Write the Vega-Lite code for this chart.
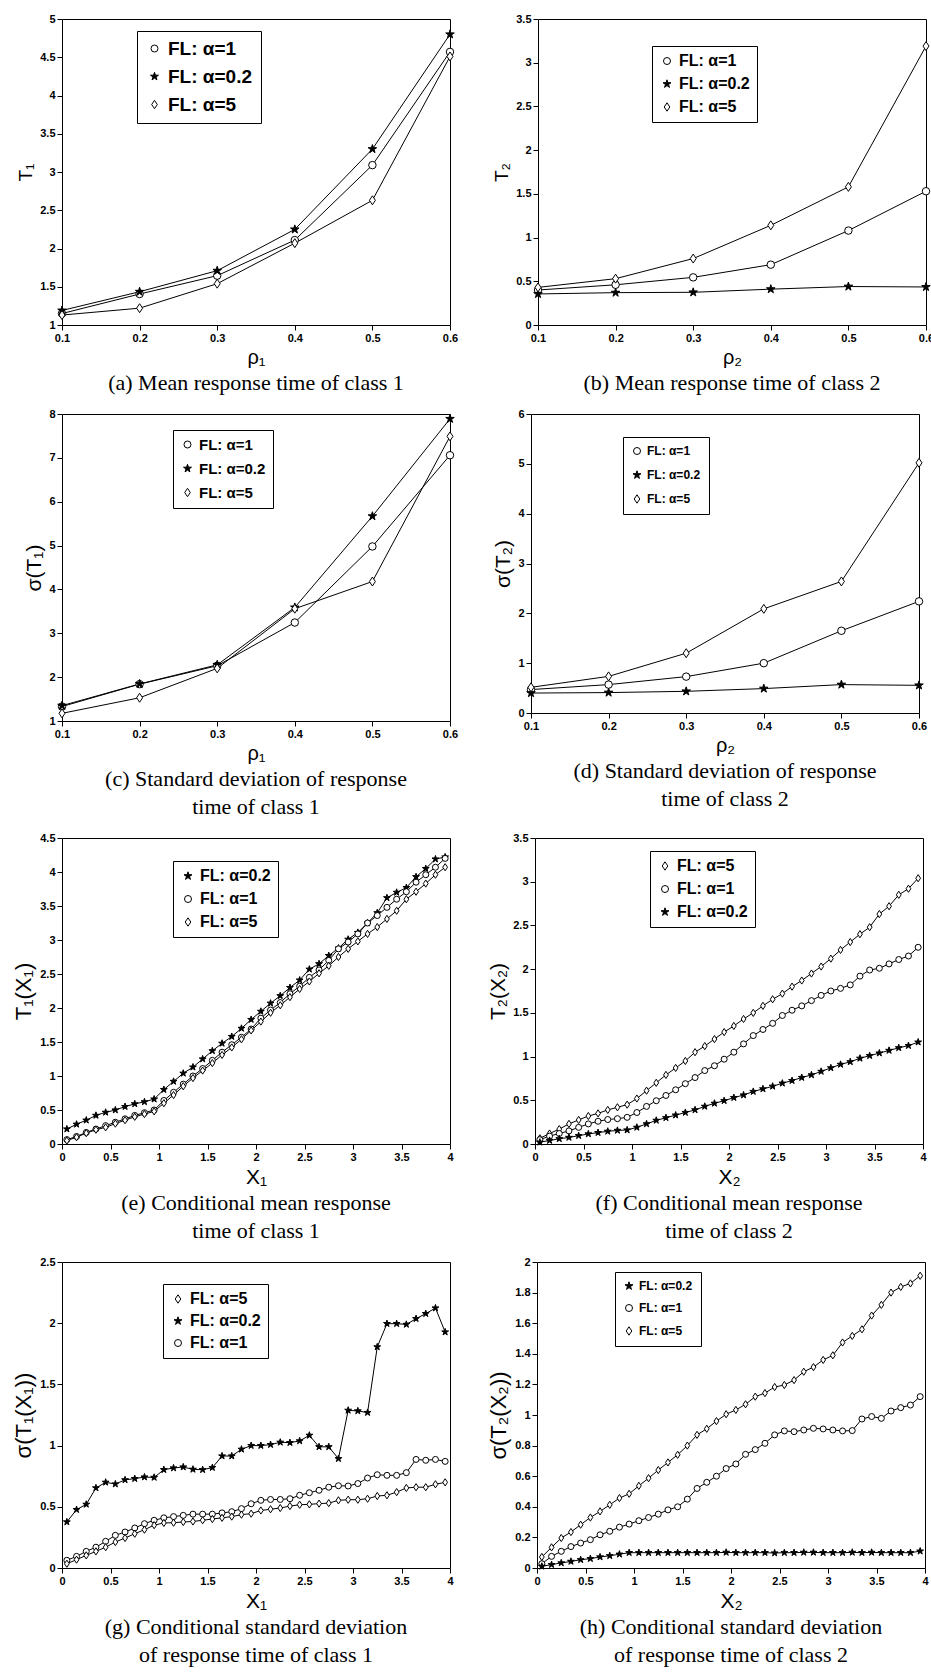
{
"background": "white",
"padding": 12,
"spacing": 12,
"config": {
  "view": {"stroke": "black", "strokeWidth": 1},
  "axis": {"labelFont": "Liberation Sans", "labelFontWeight": "bold", "labelFontSize": 11, "labelColor": "black", "tickColor": "black", "tickSize": 5, "domain": false, "grid": false, "titleFont": "Liberation Sans", "titleFontWeight": "normal", "titleColor": "black", "labelFlush": false, "labelOverlap": false},
  "legend": {"labelFont": "Liberation Sans", "labelFontWeight": "bold", "labelColor": "black", "symbolSize": 49, "symbolStrokeWidth": 1},
  "title": {"font": "Liberation Serif", "fontSize": 22, "fontWeight": "normal", "color": "black", "lineHeight": 28}
},
"vconcat": [
{"spacing": 33, "hconcat": [
{
 "width": 388, "height": 306,
 "data": {"values": [
{"x":0.1,"y":1.15,"s":"1"},{"x":0.2,"y":1.405,"s":"1"},{"x":0.3,"y":1.645,"s":"1"},{"x":0.4,"y":2.11,"s":"1"},{"x":0.5,"y":3.09,"s":"1"},{"x":0.6,"y":4.57,"s":"1"},
{"x":0.1,"y":1.19,"s":"0.2"},{"x":0.2,"y":1.435,"s":"0.2"},{"x":0.3,"y":1.71,"s":"0.2"},{"x":0.4,"y":2.25,"s":"0.2"},{"x":0.5,"y":3.30,"s":"0.2"},{"x":0.6,"y":4.80,"s":"0.2"},
{"x":0.1,"y":1.13,"s":"5"},{"x":0.2,"y":1.22,"s":"5"},{"x":0.3,"y":1.54,"s":"5"},{"x":0.4,"y":2.07,"s":"5"},{"x":0.5,"y":2.63,"s":"5"},{"x":0.6,"y":4.51,"s":"5"}
 ]},
 "title": {"text": "(a) Mean response time of class 1", "orient": "bottom", "offset": 6},
 "layer": [
  {"mark": {"type": "line", "color": "black", "strokeWidth": 1},
   "encoding": {
    "x": {"field": "x", "type": "quantitative", "scale": {"domain": [0.1, 0.6], "nice": false, "zero": false}, "axis": {"values": [0.1,0.2,0.3,0.4,0.5,0.6], "format": "~g", "labelOverlap": false, "title": "ρ₁", "titleFontSize": 20}},
    "y": {"field": "y", "type": "quantitative", "scale": {"domain": [1, 5], "nice": false, "zero": false}, "axis": {"values": [1,1.5,2,2.5,3,3.5,4,4.5,5], "format": "~g", "labelOverlap": false, "title": "T₁", "titleFontSize": 19}},
    "detail": {"field": "s", "type": "nominal"}}},
  {"mark": {"type": "point", "filled": true, "stroke": "black", "strokeWidth": 1, "opacity": 1, "size": 56},
   "encoding": {
    "x": {"field": "x", "type": "quantitative", "axis": {"values": [0.1,0.2,0.3,0.4,0.5,0.6], "format": "~g", "labelOverlap": false, "title": "ρ₁", "titleFontSize": 20}},
    "y": {"field": "y", "type": "quantitative", "axis": {"values": [1,1.5,2,2.5,3,3.5,4,4.5,5], "format": "~g", "labelOverlap": false, "title": "T₁", "titleFontSize": 19}},
    "shape": {"field": "s", "type": "nominal", "scale": {"domain": ["1","0.2","5"], "range": ["circle", "M0,-1.2L0.27,-0.371L1.141,-0.371L0.436,0.142L0.705,0.971L0,0.458L-0.705,0.971L-0.436,0.142L-1.141,-0.371L-0.27,-0.371Z", "M0,-1.2L0.8,0L0,1.2L-0.8,0Z"]},
     "legend": {"title": null, "orient": "none", "legendX": 75, "legendY": 12, "labelFontSize": 19, "rowPadding": 8, "strokeColor": "black", "padding": 8, "labelExpr": "'FL: α=' + datum.label"}},
    "fill": {"field": "s", "type": "nominal", "scale": {"domain": ["1","0.2","5"], "range": ["white","black","white"]}, "legend": null}}}
 ]
},
{
 "width": 388, "height": 306,
 "data": {"values": [
{"x":0.1,"y":0.40,"s":"1"},{"x":0.2,"y":0.46,"s":"1"},{"x":0.3,"y":0.545,"s":"1"},{"x":0.4,"y":0.69,"s":"1"},{"x":0.5,"y":1.08,"s":"1"},{"x":0.6,"y":1.53,"s":"1"},
{"x":0.1,"y":0.355,"s":"0.2"},{"x":0.2,"y":0.37,"s":"0.2"},{"x":0.3,"y":0.374,"s":"0.2"},{"x":0.4,"y":0.41,"s":"0.2"},{"x":0.5,"y":0.44,"s":"0.2"},{"x":0.6,"y":0.435,"s":"0.2"},
{"x":0.1,"y":0.43,"s":"5"},{"x":0.2,"y":0.53,"s":"5"},{"x":0.3,"y":0.76,"s":"5"},{"x":0.4,"y":1.14,"s":"5"},{"x":0.5,"y":1.58,"s":"5"},{"x":0.6,"y":3.19,"s":"5"}
 ]},
 "title": {"text": "(b) Mean response time of class 2", "orient": "bottom", "offset": 6},
 "layer": [
  {"mark": {"type": "line", "color": "black", "strokeWidth": 1},
   "encoding": {
    "x": {"field": "x", "type": "quantitative", "scale": {"domain": [0.1, 0.6], "nice": false, "zero": false}, "axis": {"values": [0.1,0.2,0.3,0.4,0.5,0.6], "format": "~g", "labelOverlap": false, "title": "ρ₂", "titleFontSize": 20}},
    "y": {"field": "y", "type": "quantitative", "scale": {"domain": [0, 3.5], "nice": false, "zero": false}, "axis": {"values": [0,0.5,1,1.5,2,2.5,3,3.5], "format": "~g", "labelOverlap": false, "title": "T₂", "titleFontSize": 19}},
    "detail": {"field": "s", "type": "nominal"}}},
  {"mark": {"type": "point", "filled": true, "stroke": "black", "strokeWidth": 1, "opacity": 1, "size": 56},
   "encoding": {
    "x": {"field": "x", "type": "quantitative", "axis": {"values": [0.1,0.2,0.3,0.4,0.5,0.6], "format": "~g", "labelOverlap": false, "title": "ρ₂", "titleFontSize": 20}},
    "y": {"field": "y", "type": "quantitative", "axis": {"values": [0,0.5,1,1.5,2,2.5,3,3.5], "format": "~g", "labelOverlap": false, "title": "T₂", "titleFontSize": 19}},
    "shape": {"field": "s", "type": "nominal", "scale": {"domain": ["1","0.2","5"], "range": ["circle", "M0,-1.2L0.27,-0.371L1.141,-0.371L0.436,0.142L0.705,0.971L0,0.458L-0.705,0.971L-0.436,0.142L-1.141,-0.371L-0.27,-0.371Z", "M0,-1.2L0.8,0L0,1.2L-0.8,0Z"]},
     "legend": {"title": null, "orient": "none", "legendX": 114, "legendY": 27, "labelFontSize": 16, "rowPadding": 7, "strokeColor": "black", "padding": 7, "labelExpr": "'FL: α=' + datum.label"}},
    "fill": {"field": "s", "type": "nominal", "scale": {"domain": ["1","0.2","5"], "range": ["white","black","white"]}, "legend": null}}}
 ]
}
], "resolve": {"scale": {"shape": "independent", "fill": "independent"}, "legend": {"shape": "independent"}}},
{"spacing": 33, "hconcat": [
{
 "width": 388, "height": 307,
 "data": {"values": [
{"x":0.1,"y":1.33,"s":"1"},{"x":0.2,"y":1.84,"s":"1"},{"x":0.3,"y":2.26,"s":"1"},{"x":0.4,"y":3.245,"s":"1"},{"x":0.5,"y":4.98,"s":"1"},{"x":0.6,"y":7.06,"s":"1"},
{"x":0.1,"y":1.35,"s":"0.2"},{"x":0.2,"y":1.845,"s":"0.2"},{"x":0.3,"y":2.28,"s":"0.2"},{"x":0.4,"y":3.59,"s":"0.2"},{"x":0.5,"y":5.67,"s":"0.2"},{"x":0.6,"y":7.89,"s":"0.2"},
{"x":0.1,"y":1.175,"s":"5"},{"x":0.2,"y":1.53,"s":"5"},{"x":0.3,"y":2.20,"s":"5"},{"x":0.4,"y":3.56,"s":"5"},{"x":0.5,"y":4.18,"s":"5"},{"x":0.6,"y":7.49,"s":"5"}
 ]},
 "title": {"text": ["(c) Standard deviation of response", "time of class 1"], "orient": "bottom", "offset": 6},
 "layer": [
  {"mark": {"type": "line", "color": "black", "strokeWidth": 1},
   "encoding": {
    "x": {"field": "x", "type": "quantitative", "scale": {"domain": [0.1, 0.6], "nice": false, "zero": false}, "axis": {"values": [0.1,0.2,0.3,0.4,0.5,0.6], "format": "~g", "labelOverlap": false, "title": "ρ₁", "titleFontSize": 20}},
    "y": {"field": "y", "type": "quantitative", "scale": {"domain": [1, 8], "nice": false, "zero": false}, "axis": {"values": [1,2,3,4,5,6,7,8], "format": "~g", "labelOverlap": false, "title": "σ(T₁)", "titleFontSize": 21}},
    "detail": {"field": "s", "type": "nominal"}}},
  {"mark": {"type": "point", "filled": true, "stroke": "black", "strokeWidth": 1, "opacity": 1, "size": 56},
   "encoding": {
    "x": {"field": "x", "type": "quantitative", "axis": {"values": [0.1,0.2,0.3,0.4,0.5,0.6], "format": "~g", "labelOverlap": false, "title": "ρ₁", "titleFontSize": 20}},
    "y": {"field": "y", "type": "quantitative", "axis": {"values": [1,2,3,4,5,6,7,8], "format": "~g", "labelOverlap": false, "title": "σ(T₁)", "titleFontSize": 21}},
    "shape": {"field": "s", "type": "nominal", "scale": {"domain": ["1","0.2","5"], "range": ["circle", "M0,-1.2L0.27,-0.371L1.141,-0.371L0.436,0.142L0.705,0.971L0,0.458L-0.705,0.971L-0.436,0.142L-1.141,-0.371L-0.27,-0.371Z", "M0,-1.2L0.8,0L0,1.2L-0.8,0Z"]},
     "legend": {"title": null, "orient": "none", "legendX": 111, "legendY": 16, "labelFontSize": 15, "rowPadding": 8, "strokeColor": "black", "padding": 7, "labelExpr": "'FL: α=' + datum.label"}},
    "fill": {"field": "s", "type": "nominal", "scale": {"domain": ["1","0.2","5"], "range": ["white","black","white"]}, "legend": null}}}
 ]
},
{
 "width": 388, "height": 299,
 "data": {"values": [
{"x":0.1,"y":0.47,"s":"1"},{"x":0.2,"y":0.57,"s":"1"},{"x":0.3,"y":0.73,"s":"1"},{"x":0.4,"y":1.0,"s":"1"},{"x":0.5,"y":1.65,"s":"1"},{"x":0.6,"y":2.24,"s":"1"},
{"x":0.1,"y":0.40,"s":"0.2"},{"x":0.2,"y":0.41,"s":"0.2"},{"x":0.3,"y":0.435,"s":"0.2"},{"x":0.4,"y":0.49,"s":"0.2"},{"x":0.5,"y":0.57,"s":"0.2"},{"x":0.6,"y":0.555,"s":"0.2"},
{"x":0.1,"y":0.515,"s":"5"},{"x":0.2,"y":0.735,"s":"5"},{"x":0.3,"y":1.20,"s":"5"},{"x":0.4,"y":2.09,"s":"5"},{"x":0.5,"y":2.64,"s":"5"},{"x":0.6,"y":5.02,"s":"5"}
 ]},
 "title": {"text": ["(d) Standard deviation of response", "time of class 2"], "orient": "bottom", "offset": 6},
 "layer": [
  {"mark": {"type": "line", "color": "black", "strokeWidth": 1},
   "encoding": {
    "x": {"field": "x", "type": "quantitative", "scale": {"domain": [0.1, 0.6], "nice": false, "zero": false}, "axis": {"values": [0.1,0.2,0.3,0.4,0.5,0.6], "format": "~g", "labelOverlap": false, "title": "ρ₂", "titleFontSize": 20}},
    "y": {"field": "y", "type": "quantitative", "scale": {"domain": [0, 6], "nice": false, "zero": false}, "axis": {"values": [0,1,2,3,4,5,6], "format": "~g", "labelOverlap": false, "title": "σ(T₂)", "titleFontSize": 21}},
    "detail": {"field": "s", "type": "nominal"}}},
  {"mark": {"type": "point", "filled": true, "stroke": "black", "strokeWidth": 1, "opacity": 1, "size": 56},
   "encoding": {
    "x": {"field": "x", "type": "quantitative", "axis": {"values": [0.1,0.2,0.3,0.4,0.5,0.6], "format": "~g", "labelOverlap": false, "title": "ρ₂", "titleFontSize": 20}},
    "y": {"field": "y", "type": "quantitative", "axis": {"values": [0,1,2,3,4,5,6], "format": "~g", "labelOverlap": false, "title": "σ(T₂)", "titleFontSize": 21}},
    "shape": {"field": "s", "type": "nominal", "scale": {"domain": ["1","0.2","5"], "range": ["circle", "M0,-1.2L0.27,-0.371L1.141,-0.371L0.436,0.142L0.705,0.971L0,0.458L-0.705,0.971L-0.436,0.142L-1.141,-0.371L-0.27,-0.371Z", "M0,-1.2L0.8,0L0,1.2L-0.8,0Z"]},
     "legend": {"title": null, "orient": "none", "legendX": 92, "legendY": 23, "labelFontSize": 12, "rowPadding": 11, "strokeColor": "black", "padding": 8, "labelExpr": "'FL: α=' + datum.label"}},
    "fill": {"field": "s", "type": "nominal", "scale": {"domain": ["1","0.2","5"], "range": ["white","black","white"]}, "legend": null}}}
 ]
}
], "resolve": {"scale": {"shape": "independent", "fill": "independent"}, "legend": {"shape": "independent"}}},
{"spacing": 33, "hconcat": [
{
 "width": 388, "height": 306,
 "data": {"values": [
{"x":0.05,"y":0.22,"s":"0.2"},{"x":0.15,"y":0.29,"s":"0.2"},{"x":0.25,"y":0.35,"s":"0.2"},{"x":0.35,"y":0.42,"s":"0.2"},{"x":0.45,"y":0.465,"s":"0.2"},{"x":0.55,"y":0.50,"s":"0.2"},{"x":0.65,"y":0.55,"s":"0.2"},{"x":0.75,"y":0.59,"s":"0.2"},{"x":0.85,"y":0.62,"s":"0.2"},{"x":0.95,"y":0.66,"s":"0.2"},
{"x":1.05,"y":0.80,"s":"0.2"},{"x":1.15,"y":0.92,"s":"0.2"},{"x":1.25,"y":1.04,"s":"0.2"},{"x":1.35,"y":1.13,"s":"0.2"},{"x":1.45,"y":1.25,"s":"0.2"},{"x":1.55,"y":1.37,"s":"0.2"},{"x":1.65,"y":1.48,"s":"0.2"},{"x":1.75,"y":1.58,"s":"0.2"},{"x":1.85,"y":1.70,"s":"0.2"},{"x":1.95,"y":1.83,"s":"0.2"},
{"x":2.05,"y":1.95,"s":"0.2"},{"x":2.15,"y":2.07,"s":"0.2"},{"x":2.25,"y":2.18,"s":"0.2"},{"x":2.35,"y":2.30,"s":"0.2"},{"x":2.45,"y":2.41,"s":"0.2"},{"x":2.55,"y":2.57,"s":"0.2"},{"x":2.65,"y":2.65,"s":"0.2"},{"x":2.75,"y":2.77,"s":"0.2"},{"x":2.85,"y":2.88,"s":"0.2"},{"x":2.95,"y":3.01,"s":"0.2"},
{"x":3.05,"y":3.11,"s":"0.2"},{"x":3.15,"y":3.25,"s":"0.2"},{"x":3.25,"y":3.40,"s":"0.2"},{"x":3.35,"y":3.62,"s":"0.2"},{"x":3.45,"y":3.70,"s":"0.2"},{"x":3.55,"y":3.77,"s":"0.2"},{"x":3.65,"y":3.93,"s":"0.2"},{"x":3.75,"y":4.05,"s":"0.2"},{"x":3.85,"y":4.19,"s":"0.2"},{"x":3.95,"y":4.22,"s":"0.2"},
{"x":0.05,"y":0.065,"s":"1"},{"x":0.15,"y":0.11,"s":"1"},{"x":0.25,"y":0.17,"s":"1"},{"x":0.35,"y":0.22,"s":"1"},{"x":0.45,"y":0.27,"s":"1"},{"x":0.55,"y":0.32,"s":"1"},{"x":0.65,"y":0.37,"s":"1"},{"x":0.75,"y":0.42,"s":"1"},{"x":0.85,"y":0.46,"s":"1"},{"x":0.95,"y":0.50,"s":"1"},
{"x":1.05,"y":0.64,"s":"1"},{"x":1.15,"y":0.76,"s":"1"},{"x":1.25,"y":0.88,"s":"1"},{"x":1.35,"y":1.00,"s":"1"},{"x":1.45,"y":1.11,"s":"1"},{"x":1.55,"y":1.23,"s":"1"},{"x":1.65,"y":1.35,"s":"1"},{"x":1.75,"y":1.46,"s":"1"},{"x":1.85,"y":1.57,"s":"1"},{"x":1.95,"y":1.69,"s":"1"},
{"x":2.05,"y":1.85,"s":"1"},{"x":2.15,"y":1.97,"s":"1"},{"x":2.25,"y":2.08,"s":"1"},{"x":2.35,"y":2.21,"s":"1"},{"x":2.45,"y":2.32,"s":"1"},{"x":2.55,"y":2.45,"s":"1"},{"x":2.65,"y":2.56,"s":"1"},{"x":2.75,"y":2.70,"s":"1"},{"x":2.85,"y":2.87,"s":"1"},{"x":2.95,"y":2.97,"s":"1"},
{"x":3.05,"y":3.09,"s":"1"},{"x":3.15,"y":3.25,"s":"1"},{"x":3.25,"y":3.36,"s":"1"},{"x":3.35,"y":3.48,"s":"1"},{"x":3.45,"y":3.60,"s":"1"},{"x":3.55,"y":3.71,"s":"1"},{"x":3.65,"y":3.85,"s":"1"},{"x":3.75,"y":3.96,"s":"1"},{"x":3.85,"y":4.07,"s":"1"},{"x":3.95,"y":4.20,"s":"1"},
{"x":0.05,"y":0.05,"s":"5"},{"x":0.15,"y":0.10,"s":"5"},{"x":0.25,"y":0.16,"s":"5"},{"x":0.35,"y":0.21,"s":"5"},{"x":0.45,"y":0.245,"s":"5"},{"x":0.55,"y":0.30,"s":"5"},{"x":0.65,"y":0.35,"s":"5"},{"x":0.75,"y":0.40,"s":"5"},{"x":0.85,"y":0.44,"s":"5"},{"x":0.95,"y":0.48,"s":"5"},
{"x":1.05,"y":0.60,"s":"5"},{"x":1.15,"y":0.72,"s":"5"},{"x":1.25,"y":0.85,"s":"5"},{"x":1.35,"y":0.97,"s":"5"},{"x":1.45,"y":1.08,"s":"5"},{"x":1.55,"y":1.19,"s":"5"},{"x":1.65,"y":1.31,"s":"5"},{"x":1.75,"y":1.42,"s":"5"},{"x":1.85,"y":1.54,"s":"5"},{"x":1.95,"y":1.67,"s":"5"},
{"x":2.05,"y":1.80,"s":"5"},{"x":2.15,"y":1.93,"s":"5"},{"x":2.25,"y":2.04,"s":"5"},{"x":2.35,"y":2.16,"s":"5"},{"x":2.45,"y":2.28,"s":"5"},{"x":2.55,"y":2.39,"s":"5"},{"x":2.65,"y":2.51,"s":"5"},{"x":2.75,"y":2.62,"s":"5"},{"x":2.85,"y":2.75,"s":"5"},{"x":2.95,"y":2.87,"s":"5"},
{"x":3.05,"y":2.98,"s":"5"},{"x":3.15,"y":3.09,"s":"5"},{"x":3.25,"y":3.19,"s":"5"},{"x":3.35,"y":3.31,"s":"5"},{"x":3.45,"y":3.43,"s":"5"},{"x":3.55,"y":3.60,"s":"5"},{"x":3.65,"y":3.71,"s":"5"},{"x":3.75,"y":3.83,"s":"5"},{"x":3.85,"y":3.96,"s":"5"},{"x":3.95,"y":4.07,"s":"5"}
 ]},
 "title": {"text": ["(e) Conditional mean response", "time of class 1"], "orient": "bottom", "offset": 6},
 "layer": [
  {"mark": {"type": "line", "color": "black", "strokeWidth": 1},
   "encoding": {
    "x": {"field": "x", "type": "quantitative", "scale": {"domain": [0, 4], "nice": false, "zero": false}, "axis": {"values": [0,0.5,1,1.5,2,2.5,3,3.5,4], "format": "~g", "labelOverlap": false, "title": "X₁", "titleFontSize": 21}},
    "y": {"field": "y", "type": "quantitative", "scale": {"domain": [0, 4.5], "nice": false, "zero": false}, "axis": {"values": [0,0.5,1,1.5,2,2.5,3,3.5,4,4.5], "format": "~g", "labelOverlap": false, "title": "T₁(X₁)", "titleFontSize": 22}},
    "detail": {"field": "s", "type": "nominal"}}},
  {"mark": {"type": "point", "filled": true, "stroke": "black", "strokeWidth": 1, "opacity": 1, "size": 36},
   "encoding": {
    "x": {"field": "x", "type": "quantitative", "axis": {"values": [0,0.5,1,1.5,2,2.5,3,3.5,4], "format": "~g", "labelOverlap": false, "title": "X₁", "titleFontSize": 21}},
    "y": {"field": "y", "type": "quantitative", "axis": {"values": [0,0.5,1,1.5,2,2.5,3,3.5,4,4.5], "format": "~g", "labelOverlap": false, "title": "T₁(X₁)", "titleFontSize": 22}},
    "shape": {"field": "s", "type": "nominal", "scale": {"domain": ["0.2","1","5"], "range": ["M0,-1.2L0.27,-0.371L1.141,-0.371L0.436,0.142L0.705,0.971L0,0.458L-0.705,0.971L-0.436,0.142L-1.141,-0.371L-0.27,-0.371Z", "circle", "M0,-1.2L0.8,0L0,1.2L-0.8,0Z"]},
     "legend": {"title": null, "orient": "none", "legendX": 111, "legendY": 23, "labelFontSize": 16, "rowPadding": 7, "strokeColor": "black", "padding": 7, "labelExpr": "'FL: α=' + datum.label"}},
    "fill": {"field": "s", "type": "nominal", "scale": {"domain": ["0.2","1","5"], "range": ["black","white","white"]}, "legend": null}}}
 ]
},
{
 "width": 388, "height": 306,
 "data": {"values": [
{"x":0.05,"y":0.065,"s":"5"},{"x":0.15,"y":0.12,"s":"5"},{"x":0.25,"y":0.17,"s":"5"},{"x":0.35,"y":0.23,"s":"5"},{"x":0.45,"y":0.275,"s":"5"},{"x":0.55,"y":0.32,"s":"5"},{"x":0.65,"y":0.35,"s":"5"},{"x":0.75,"y":0.39,"s":"5"},{"x":0.85,"y":0.42,"s":"5"},{"x":0.95,"y":0.45,"s":"5"},
{"x":1.05,"y":0.52,"s":"5"},{"x":1.15,"y":0.61,"s":"5"},{"x":1.25,"y":0.70,"s":"5"},{"x":1.35,"y":0.79,"s":"5"},{"x":1.45,"y":0.87,"s":"5"},{"x":1.55,"y":0.95,"s":"5"},{"x":1.65,"y":1.05,"s":"5"},{"x":1.75,"y":1.12,"s":"5"},{"x":1.85,"y":1.20,"s":"5"},{"x":1.95,"y":1.28,"s":"5"},
{"x":2.05,"y":1.35,"s":"5"},{"x":2.15,"y":1.43,"s":"5"},{"x":2.25,"y":1.50,"s":"5"},{"x":2.35,"y":1.58,"s":"5"},{"x":2.45,"y":1.655,"s":"5"},{"x":2.55,"y":1.72,"s":"5"},{"x":2.65,"y":1.80,"s":"5"},{"x":2.75,"y":1.87,"s":"5"},{"x":2.85,"y":1.95,"s":"5"},{"x":2.95,"y":2.03,"s":"5"},
{"x":3.05,"y":2.12,"s":"5"},{"x":3.15,"y":2.22,"s":"5"},{"x":3.25,"y":2.31,"s":"5"},{"x":3.35,"y":2.40,"s":"5"},{"x":3.45,"y":2.48,"s":"5"},{"x":3.55,"y":2.63,"s":"5"},{"x":3.65,"y":2.72,"s":"5"},{"x":3.75,"y":2.85,"s":"5"},{"x":3.85,"y":2.92,"s":"5"},{"x":3.95,"y":3.04,"s":"5"},
{"x":0.05,"y":0.05,"s":"1"},{"x":0.15,"y":0.09,"s":"1"},{"x":0.25,"y":0.12,"s":"1"},{"x":0.35,"y":0.15,"s":"1"},{"x":0.45,"y":0.19,"s":"1"},{"x":0.55,"y":0.23,"s":"1"},{"x":0.65,"y":0.26,"s":"1"},{"x":0.75,"y":0.28,"s":"1"},{"x":0.85,"y":0.29,"s":"1"},{"x":0.95,"y":0.305,"s":"1"},
{"x":1.05,"y":0.36,"s":"1"},{"x":1.15,"y":0.43,"s":"1"},{"x":1.25,"y":0.495,"s":"1"},{"x":1.35,"y":0.555,"s":"1"},{"x":1.45,"y":0.62,"s":"1"},{"x":1.55,"y":0.69,"s":"1"},{"x":1.65,"y":0.76,"s":"1"},{"x":1.75,"y":0.84,"s":"1"},{"x":1.85,"y":0.895,"s":"1"},{"x":1.95,"y":0.97,"s":"1"},
{"x":2.05,"y":1.05,"s":"1"},{"x":2.15,"y":1.145,"s":"1"},{"x":2.25,"y":1.24,"s":"1"},{"x":2.35,"y":1.31,"s":"1"},{"x":2.45,"y":1.38,"s":"1"},{"x":2.55,"y":1.47,"s":"1"},{"x":2.65,"y":1.53,"s":"1"},{"x":2.75,"y":1.58,"s":"1"},{"x":2.85,"y":1.64,"s":"1"},{"x":2.95,"y":1.70,"s":"1"},
{"x":3.05,"y":1.75,"s":"1"},{"x":3.15,"y":1.78,"s":"1"},{"x":3.25,"y":1.82,"s":"1"},{"x":3.35,"y":1.92,"s":"1"},{"x":3.45,"y":1.99,"s":"1"},{"x":3.55,"y":2.01,"s":"1"},{"x":3.65,"y":2.06,"s":"1"},{"x":3.75,"y":2.11,"s":"1"},{"x":3.85,"y":2.15,"s":"1"},{"x":3.95,"y":2.25,"s":"1"},
{"x":0.05,"y":0.02,"s":"0.2"},{"x":0.15,"y":0.04,"s":"0.2"},{"x":0.25,"y":0.06,"s":"0.2"},{"x":0.35,"y":0.075,"s":"0.2"},{"x":0.45,"y":0.095,"s":"0.2"},{"x":0.55,"y":0.115,"s":"0.2"},{"x":0.65,"y":0.13,"s":"0.2"},{"x":0.75,"y":0.145,"s":"0.2"},{"x":0.85,"y":0.155,"s":"0.2"},{"x":0.95,"y":0.16,"s":"0.2"},
{"x":1.05,"y":0.19,"s":"0.2"},{"x":1.15,"y":0.23,"s":"0.2"},{"x":1.25,"y":0.27,"s":"0.2"},{"x":1.35,"y":0.30,"s":"0.2"},{"x":1.45,"y":0.33,"s":"0.2"},{"x":1.55,"y":0.36,"s":"0.2"},{"x":1.65,"y":0.39,"s":"0.2"},{"x":1.75,"y":0.43,"s":"0.2"},{"x":1.85,"y":0.465,"s":"0.2"},{"x":1.95,"y":0.495,"s":"0.2"},
{"x":2.05,"y":0.53,"s":"0.2"},{"x":2.15,"y":0.56,"s":"0.2"},{"x":2.25,"y":0.60,"s":"0.2"},{"x":2.35,"y":0.63,"s":"0.2"},{"x":2.45,"y":0.66,"s":"0.2"},{"x":2.55,"y":0.695,"s":"0.2"},{"x":2.65,"y":0.725,"s":"0.2"},{"x":2.75,"y":0.76,"s":"0.2"},{"x":2.85,"y":0.79,"s":"0.2"},{"x":2.95,"y":0.83,"s":"0.2"},
{"x":3.05,"y":0.87,"s":"0.2"},{"x":3.15,"y":0.91,"s":"0.2"},{"x":3.25,"y":0.94,"s":"0.2"},{"x":3.35,"y":0.98,"s":"0.2"},{"x":3.45,"y":1.01,"s":"0.2"},{"x":3.55,"y":1.04,"s":"0.2"},{"x":3.65,"y":1.07,"s":"0.2"},{"x":3.75,"y":1.10,"s":"0.2"},{"x":3.85,"y":1.125,"s":"0.2"},{"x":3.95,"y":1.165,"s":"0.2"}
 ]},
 "title": {"text": ["(f) Conditional mean response", "time of class 2"], "orient": "bottom", "offset": 6},
 "layer": [
  {"mark": {"type": "line", "color": "black", "strokeWidth": 1},
   "encoding": {
    "x": {"field": "x", "type": "quantitative", "scale": {"domain": [0, 4], "nice": false, "zero": false}, "axis": {"values": [0,0.5,1,1.5,2,2.5,3,3.5,4], "format": "~g", "labelOverlap": false, "title": "X₂", "titleFontSize": 21}},
    "y": {"field": "y", "type": "quantitative", "scale": {"domain": [0, 3.5], "nice": false, "zero": false}, "axis": {"values": [0,0.5,1,1.5,2,2.5,3,3.5], "format": "~g", "labelOverlap": false, "title": "T₂(X₂)", "titleFontSize": 21}},
    "detail": {"field": "s", "type": "nominal"}}},
  {"mark": {"type": "point", "filled": true, "stroke": "black", "strokeWidth": 1, "opacity": 1, "size": 36},
   "encoding": {
    "x": {"field": "x", "type": "quantitative", "axis": {"values": [0,0.5,1,1.5,2,2.5,3,3.5,4], "format": "~g", "labelOverlap": false, "title": "X₂", "titleFontSize": 21}},
    "y": {"field": "y", "type": "quantitative", "axis": {"values": [0,0.5,1,1.5,2,2.5,3,3.5], "format": "~g", "labelOverlap": false, "title": "T₂(X₂)", "titleFontSize": 21}},
    "shape": {"field": "s", "type": "nominal", "scale": {"domain": ["5","1","0.2"], "range": ["M0,-1.2L0.8,0L0,1.2L-0.8,0Z", "circle", "M0,-1.2L0.27,-0.371L1.141,-0.371L0.436,0.142L0.705,0.971L0,0.458L-0.705,0.971L-0.436,0.142L-1.141,-0.371L-0.27,-0.371Z"]},
     "legend": {"title": null, "orient": "none", "legendX": 115, "legendY": 13, "labelFontSize": 16, "rowPadding": 7, "strokeColor": "black", "padding": 7, "labelExpr": "'FL: α=' + datum.label"}},
    "fill": {"field": "s", "type": "nominal", "scale": {"domain": ["5","1","0.2"], "range": ["white","white","black"]}, "legend": null}}}
 ]
}
], "resolve": {"scale": {"shape": "independent", "fill": "independent"}, "legend": {"shape": "independent"}}},
{"spacing": 33, "hconcat": [
{
 "width": 388, "height": 306,
 "data": {"values": [
{"x":0.05,"y":0.376,"s":"0.2"},{"x":0.15,"y":0.477,"s":"0.2"},{"x":0.25,"y":0.52,"s":"0.2"},{"x":0.35,"y":0.654,"s":"0.2"},{"x":0.45,"y":0.70,"s":"0.2"},{"x":0.55,"y":0.686,"s":"0.2"},{"x":0.65,"y":0.72,"s":"0.2"},{"x":0.75,"y":0.73,"s":"0.2"},{"x":0.85,"y":0.743,"s":"0.2"},{"x":0.95,"y":0.74,"s":"0.2"},
{"x":1.05,"y":0.803,"s":"0.2"},{"x":1.15,"y":0.817,"s":"0.2"},{"x":1.25,"y":0.825,"s":"0.2"},{"x":1.35,"y":0.806,"s":"0.2"},{"x":1.45,"y":0.803,"s":"0.2"},{"x":1.55,"y":0.82,"s":"0.2"},{"x":1.65,"y":0.915,"s":"0.2"},{"x":1.75,"y":0.915,"s":"0.2"},{"x":1.85,"y":0.97,"s":"0.2"},{"x":1.95,"y":1.0,"s":"0.2"},
{"x":2.05,"y":1.0,"s":"0.2"},{"x":2.15,"y":1.008,"s":"0.2"},{"x":2.25,"y":1.027,"s":"0.2"},{"x":2.35,"y":1.024,"s":"0.2"},{"x":2.45,"y":1.038,"s":"0.2"},{"x":2.55,"y":1.084,"s":"0.2"},{"x":2.65,"y":0.99,"s":"0.2"},{"x":2.75,"y":0.99,"s":"0.2"},{"x":2.85,"y":0.893,"s":"0.2"},{"x":2.95,"y":1.288,"s":"0.2"},
{"x":3.05,"y":1.283,"s":"0.2"},{"x":3.15,"y":1.27,"s":"0.2"},{"x":3.25,"y":1.806,"s":"0.2"},{"x":3.35,"y":1.996,"s":"0.2"},{"x":3.45,"y":1.996,"s":"0.2"},{"x":3.55,"y":1.99,"s":"0.2"},{"x":3.65,"y":2.037,"s":"0.2"},{"x":3.75,"y":2.078,"s":"0.2"},{"x":3.85,"y":2.124,"s":"0.2"},{"x":3.95,"y":1.928,"s":"0.2"},
{"x":0.05,"y":0.063,"s":"1"},{"x":0.15,"y":0.095,"s":"1"},{"x":0.25,"y":0.136,"s":"1"},{"x":0.35,"y":0.17,"s":"1"},{"x":0.45,"y":0.218,"s":"1"},{"x":0.55,"y":0.267,"s":"1"},{"x":0.65,"y":0.294,"s":"1"},{"x":0.75,"y":0.327,"s":"1"},{"x":0.85,"y":0.362,"s":"1"},{"x":0.95,"y":0.39,"s":"1"},
{"x":1.05,"y":0.41,"s":"1"},{"x":1.15,"y":0.42,"s":"1"},{"x":1.25,"y":0.43,"s":"1"},{"x":1.35,"y":0.44,"s":"1"},{"x":1.45,"y":0.44,"s":"1"},{"x":1.55,"y":0.44,"s":"1"},{"x":1.65,"y":0.45,"s":"1"},{"x":1.75,"y":0.46,"s":"1"},{"x":1.85,"y":0.485,"s":"1"},{"x":1.95,"y":0.525,"s":"1"},
{"x":2.05,"y":0.553,"s":"1"},{"x":2.15,"y":0.56,"s":"1"},{"x":2.25,"y":0.56,"s":"1"},{"x":2.35,"y":0.566,"s":"1"},{"x":2.45,"y":0.594,"s":"1"},{"x":2.55,"y":0.615,"s":"1"},{"x":2.65,"y":0.635,"s":"1"},{"x":2.75,"y":0.66,"s":"1"},{"x":2.85,"y":0.672,"s":"1"},{"x":2.95,"y":0.67,"s":"1"},
{"x":3.05,"y":0.69,"s":"1"},{"x":3.15,"y":0.735,"s":"1"},{"x":3.25,"y":0.762,"s":"1"},{"x":3.35,"y":0.757,"s":"1"},{"x":3.45,"y":0.757,"s":"1"},{"x":3.55,"y":0.779,"s":"1"},{"x":3.65,"y":0.887,"s":"1"},{"x":3.75,"y":0.88,"s":"1"},{"x":3.85,"y":0.887,"s":"1"},{"x":3.95,"y":0.871,"s":"1"},
{"x":0.05,"y":0.035,"s":"5"},{"x":0.15,"y":0.068,"s":"5"},{"x":0.25,"y":0.103,"s":"5"},{"x":0.35,"y":0.136,"s":"5"},{"x":0.45,"y":0.17,"s":"5"},{"x":0.55,"y":0.212,"s":"5"},{"x":0.65,"y":0.245,"s":"5"},{"x":0.75,"y":0.28,"s":"5"},{"x":0.85,"y":0.313,"s":"5"},{"x":0.95,"y":0.35,"s":"5"},
{"x":1.05,"y":0.368,"s":"5"},{"x":1.15,"y":0.37,"s":"5"},{"x":1.25,"y":0.376,"s":"5"},{"x":1.35,"y":0.38,"s":"5"},{"x":1.45,"y":0.39,"s":"5"},{"x":1.55,"y":0.40,"s":"5"},{"x":1.65,"y":0.41,"s":"5"},{"x":1.75,"y":0.42,"s":"5"},{"x":1.85,"y":0.436,"s":"5"},{"x":1.95,"y":0.444,"s":"5"},
{"x":2.05,"y":0.47,"s":"5"},{"x":2.15,"y":0.48,"s":"5"},{"x":2.25,"y":0.49,"s":"5"},{"x":2.35,"y":0.506,"s":"5"},{"x":2.45,"y":0.517,"s":"5"},{"x":2.55,"y":0.52,"s":"5"},{"x":2.65,"y":0.526,"s":"5"},{"x":2.75,"y":0.53,"s":"5"},{"x":2.85,"y":0.553,"s":"5"},{"x":2.95,"y":0.558,"s":"5"},
{"x":3.05,"y":0.558,"s":"5"},{"x":3.15,"y":0.566,"s":"5"},{"x":3.25,"y":0.588,"s":"5"},{"x":3.35,"y":0.594,"s":"5"},{"x":3.45,"y":0.62,"s":"5"},{"x":3.55,"y":0.654,"s":"5"},{"x":3.65,"y":0.66,"s":"5"},{"x":3.75,"y":0.66,"s":"5"},{"x":3.85,"y":0.684,"s":"5"},{"x":3.95,"y":0.70,"s":"5"}
 ]},
 "title": {"text": ["(g) Conditional standard deviation", "of response time of class 1"], "orient": "bottom", "offset": 6},
 "layer": [
  {"mark": {"type": "line", "color": "black", "strokeWidth": 1},
   "encoding": {
    "x": {"field": "x", "type": "quantitative", "scale": {"domain": [0, 4], "nice": false, "zero": false}, "axis": {"values": [0,0.5,1,1.5,2,2.5,3,3.5,4], "format": "~g", "labelOverlap": false, "title": "X₁", "titleFontSize": 21}},
    "y": {"field": "y", "type": "quantitative", "scale": {"domain": [0, 2.5], "nice": false, "zero": false}, "axis": {"values": [0,0.5,1,1.5,2,2.5], "format": "~g", "labelOverlap": false, "title": "σ(T₁(X₁))", "titleFontSize": 22}},
    "detail": {"field": "s", "type": "nominal"}}},
  {"mark": {"type": "point", "filled": true, "stroke": "black", "strokeWidth": 1, "opacity": 1, "size": 36},
   "encoding": {
    "x": {"field": "x", "type": "quantitative", "axis": {"values": [0,0.5,1,1.5,2,2.5,3,3.5,4], "format": "~g", "labelOverlap": false, "title": "X₁", "titleFontSize": 21}},
    "y": {"field": "y", "type": "quantitative", "axis": {"values": [0,0.5,1,1.5,2,2.5], "format": "~g", "labelOverlap": false, "title": "σ(T₁(X₁))", "titleFontSize": 22}},
    "shape": {"field": "s", "type": "nominal", "scale": {"domain": ["5","0.2","1"], "range": ["M0,-1.2L0.8,0L0,1.2L-0.8,0Z", "M0,-1.2L0.27,-0.371L1.141,-0.371L0.436,0.142L0.705,0.971L0,0.458L-0.705,0.971L-0.436,0.142L-1.141,-0.371L-0.27,-0.371Z", "circle"]},
     "legend": {"title": null, "orient": "none", "legendX": 101, "legendY": 22, "labelFontSize": 16, "rowPadding": 6, "strokeColor": "black", "padding": 7, "labelExpr": "'FL: α=' + datum.label"}},
    "fill": {"field": "s", "type": "nominal", "scale": {"domain": ["5","0.2","1"], "range": ["white","black","white"]}, "legend": null}}}
 ]
},
{
 "width": 388, "height": 306,
 "data": {"values": [
{"x":0.05,"y":0.072,"s":"5"},{"x":0.15,"y":0.135,"s":"5"},{"x":0.25,"y":0.196,"s":"5"},{"x":0.35,"y":0.235,"s":"5"},{"x":0.45,"y":0.283,"s":"5"},{"x":0.55,"y":0.33,"s":"5"},{"x":0.65,"y":0.37,"s":"5"},{"x":0.75,"y":0.413,"s":"5"},{"x":0.85,"y":0.457,"s":"5"},{"x":0.95,"y":0.485,"s":"5"},
{"x":1.05,"y":0.537,"s":"5"},{"x":1.15,"y":0.587,"s":"5"},{"x":1.25,"y":0.64,"s":"5"},{"x":1.35,"y":0.69,"s":"5"},{"x":1.45,"y":0.74,"s":"5"},{"x":1.55,"y":0.80,"s":"5"},{"x":1.65,"y":0.87,"s":"5"},{"x":1.75,"y":0.91,"s":"5"},{"x":1.85,"y":0.96,"s":"5"},{"x":1.95,"y":1.005,"s":"5"},
{"x":2.05,"y":1.033,"s":"5"},{"x":2.15,"y":1.07,"s":"5"},{"x":2.25,"y":1.12,"s":"5"},{"x":2.35,"y":1.143,"s":"5"},{"x":2.45,"y":1.183,"s":"5"},{"x":2.55,"y":1.196,"s":"5"},{"x":2.65,"y":1.228,"s":"5"},{"x":2.75,"y":1.283,"s":"5"},{"x":2.85,"y":1.313,"s":"5"},{"x":2.95,"y":1.36,"s":"5"},
{"x":3.05,"y":1.39,"s":"5"},{"x":3.15,"y":1.474,"s":"5"},{"x":3.25,"y":1.517,"s":"5"},{"x":3.35,"y":1.56,"s":"5"},{"x":3.45,"y":1.65,"s":"5"},{"x":3.55,"y":1.72,"s":"5"},{"x":3.65,"y":1.80,"s":"5"},{"x":3.75,"y":1.837,"s":"5"},{"x":3.85,"y":1.86,"s":"5"},{"x":3.95,"y":1.91,"s":"5"},
{"x":0.05,"y":0.028,"s":"1"},{"x":0.15,"y":0.076,"s":"1"},{"x":0.25,"y":0.109,"s":"1"},{"x":0.35,"y":0.14,"s":"1"},{"x":0.45,"y":0.163,"s":"1"},{"x":0.55,"y":0.185,"s":"1"},{"x":0.65,"y":0.217,"s":"1"},{"x":0.75,"y":0.24,"s":"1"},{"x":0.85,"y":0.267,"s":"1"},{"x":0.95,"y":0.287,"s":"1"},
{"x":1.05,"y":0.309,"s":"1"},{"x":1.15,"y":0.33,"s":"1"},{"x":1.25,"y":0.352,"s":"1"},{"x":1.35,"y":0.38,"s":"1"},{"x":1.45,"y":0.40,"s":"1"},{"x":1.55,"y":0.45,"s":"1"},{"x":1.65,"y":0.52,"s":"1"},{"x":1.75,"y":0.56,"s":"1"},{"x":1.85,"y":0.60,"s":"1"},{"x":1.95,"y":0.65,"s":"1"},
{"x":2.05,"y":0.68,"s":"1"},{"x":2.15,"y":0.743,"s":"1"},{"x":2.25,"y":0.774,"s":"1"},{"x":2.35,"y":0.815,"s":"1"},{"x":2.45,"y":0.87,"s":"1"},{"x":2.55,"y":0.896,"s":"1"},{"x":2.65,"y":0.891,"s":"1"},{"x":2.75,"y":0.902,"s":"1"},{"x":2.85,"y":0.913,"s":"1"},{"x":2.95,"y":0.909,"s":"1"},
{"x":3.05,"y":0.902,"s":"1"},{"x":3.15,"y":0.896,"s":"1"},{"x":3.25,"y":0.898,"s":"1"},{"x":3.35,"y":0.974,"s":"1"},{"x":3.45,"y":0.99,"s":"1"},{"x":3.55,"y":0.978,"s":"1"},{"x":3.65,"y":1.026,"s":"1"},{"x":3.75,"y":1.048,"s":"1"},{"x":3.85,"y":1.065,"s":"1"},{"x":3.95,"y":1.12,"s":"1"},
{"x":0.05,"y":0.011,"s":"0.2"},{"x":0.15,"y":0.022,"s":"0.2"},{"x":0.25,"y":0.033,"s":"0.2"},{"x":0.35,"y":0.043,"s":"0.2"},{"x":0.45,"y":0.054,"s":"0.2"},{"x":0.55,"y":0.061,"s":"0.2"},{"x":0.65,"y":0.072,"s":"0.2"},{"x":0.75,"y":0.08,"s":"0.2"},{"x":0.85,"y":0.09,"s":"0.2"},{"x":0.95,"y":0.10,"s":"0.2"},
{"x":1.05,"y":0.10,"s":"0.2"},{"x":1.15,"y":0.10,"s":"0.2"},{"x":1.25,"y":0.10,"s":"0.2"},{"x":1.35,"y":0.10,"s":"0.2"},{"x":1.45,"y":0.10,"s":"0.2"},{"x":1.55,"y":0.10,"s":"0.2"},{"x":1.65,"y":0.10,"s":"0.2"},{"x":1.75,"y":0.10,"s":"0.2"},{"x":1.85,"y":0.10,"s":"0.2"},{"x":1.95,"y":0.102,"s":"0.2"},
{"x":2.05,"y":0.10,"s":"0.2"},{"x":2.15,"y":0.10,"s":"0.2"},{"x":2.25,"y":0.10,"s":"0.2"},{"x":2.35,"y":0.10,"s":"0.2"},{"x":2.45,"y":0.098,"s":"0.2"},{"x":2.55,"y":0.10,"s":"0.2"},{"x":2.65,"y":0.10,"s":"0.2"},{"x":2.75,"y":0.102,"s":"0.2"},{"x":2.85,"y":0.102,"s":"0.2"},{"x":2.95,"y":0.10,"s":"0.2"},
{"x":3.05,"y":0.10,"s":"0.2"},{"x":3.15,"y":0.10,"s":"0.2"},{"x":3.25,"y":0.102,"s":"0.2"},{"x":3.35,"y":0.10,"s":"0.2"},{"x":3.45,"y":0.102,"s":"0.2"},{"x":3.55,"y":0.10,"s":"0.2"},{"x":3.65,"y":0.10,"s":"0.2"},{"x":3.75,"y":0.10,"s":"0.2"},{"x":3.85,"y":0.10,"s":"0.2"},{"x":3.95,"y":0.11,"s":"0.2"}
 ]},
 "title": {"text": ["(h) Conditional standard deviation", "of response time of class 2"], "orient": "bottom", "offset": 6},
 "layer": [
  {"mark": {"type": "line", "color": "black", "strokeWidth": 1},
   "encoding": {
    "x": {"field": "x", "type": "quantitative", "scale": {"domain": [0, 4], "nice": false, "zero": false}, "axis": {"values": [0,0.5,1,1.5,2,2.5,3,3.5,4], "format": "~g", "labelOverlap": false, "title": "X₂", "titleFontSize": 21}},
    "y": {"field": "y", "type": "quantitative", "scale": {"domain": [0, 2], "nice": false, "zero": false}, "axis": {"values": [0,0.2,0.4,0.6,0.8,1,1.2,1.4,1.6,1.8,2], "format": "~g", "labelOverlap": false, "title": "σ(T₂(X₂))", "titleFontSize": 22}},
    "detail": {"field": "s", "type": "nominal"}}},
  {"mark": {"type": "point", "filled": true, "stroke": "black", "strokeWidth": 1, "opacity": 1, "size": 36},
   "encoding": {
    "x": {"field": "x", "type": "quantitative", "axis": {"values": [0,0.5,1,1.5,2,2.5,3,3.5,4], "format": "~g", "labelOverlap": false, "title": "X₂", "titleFontSize": 21}},
    "y": {"field": "y", "type": "quantitative", "axis": {"values": [0,0.2,0.4,0.6,0.8,1,1.2,1.4,1.6,1.8,2], "format": "~g", "labelOverlap": false, "title": "σ(T₂(X₂))", "titleFontSize": 22}},
    "shape": {"field": "s", "type": "nominal", "scale": {"domain": ["0.2","1","5"], "range": ["M0,-1.2L0.27,-0.371L1.141,-0.371L0.436,0.142L0.705,0.971L0,0.458L-0.705,0.971L-0.436,0.142L-1.141,-0.371L-0.27,-0.371Z", "circle", "M0,-1.2L0.8,0L0,1.2L-0.8,0Z"]},
     "legend": {"title": null, "orient": "none", "legendX": 78, "legendY": 10, "labelFontSize": 12, "rowPadding": 10, "strokeColor": "black", "padding": 8, "labelExpr": "'FL: α=' + datum.label"}},
    "fill": {"field": "s", "type": "nominal", "scale": {"domain": ["0.2","1","5"], "range": ["black","white","white"]}, "legend": null}}}
 ]
}
], "resolve": {"scale": {"shape": "independent", "fill": "independent"}, "legend": {"shape": "independent"}}}
],
"resolve": {"scale": {"shape": "independent", "fill": "independent"}, "legend": {"shape": "independent"}}
}
